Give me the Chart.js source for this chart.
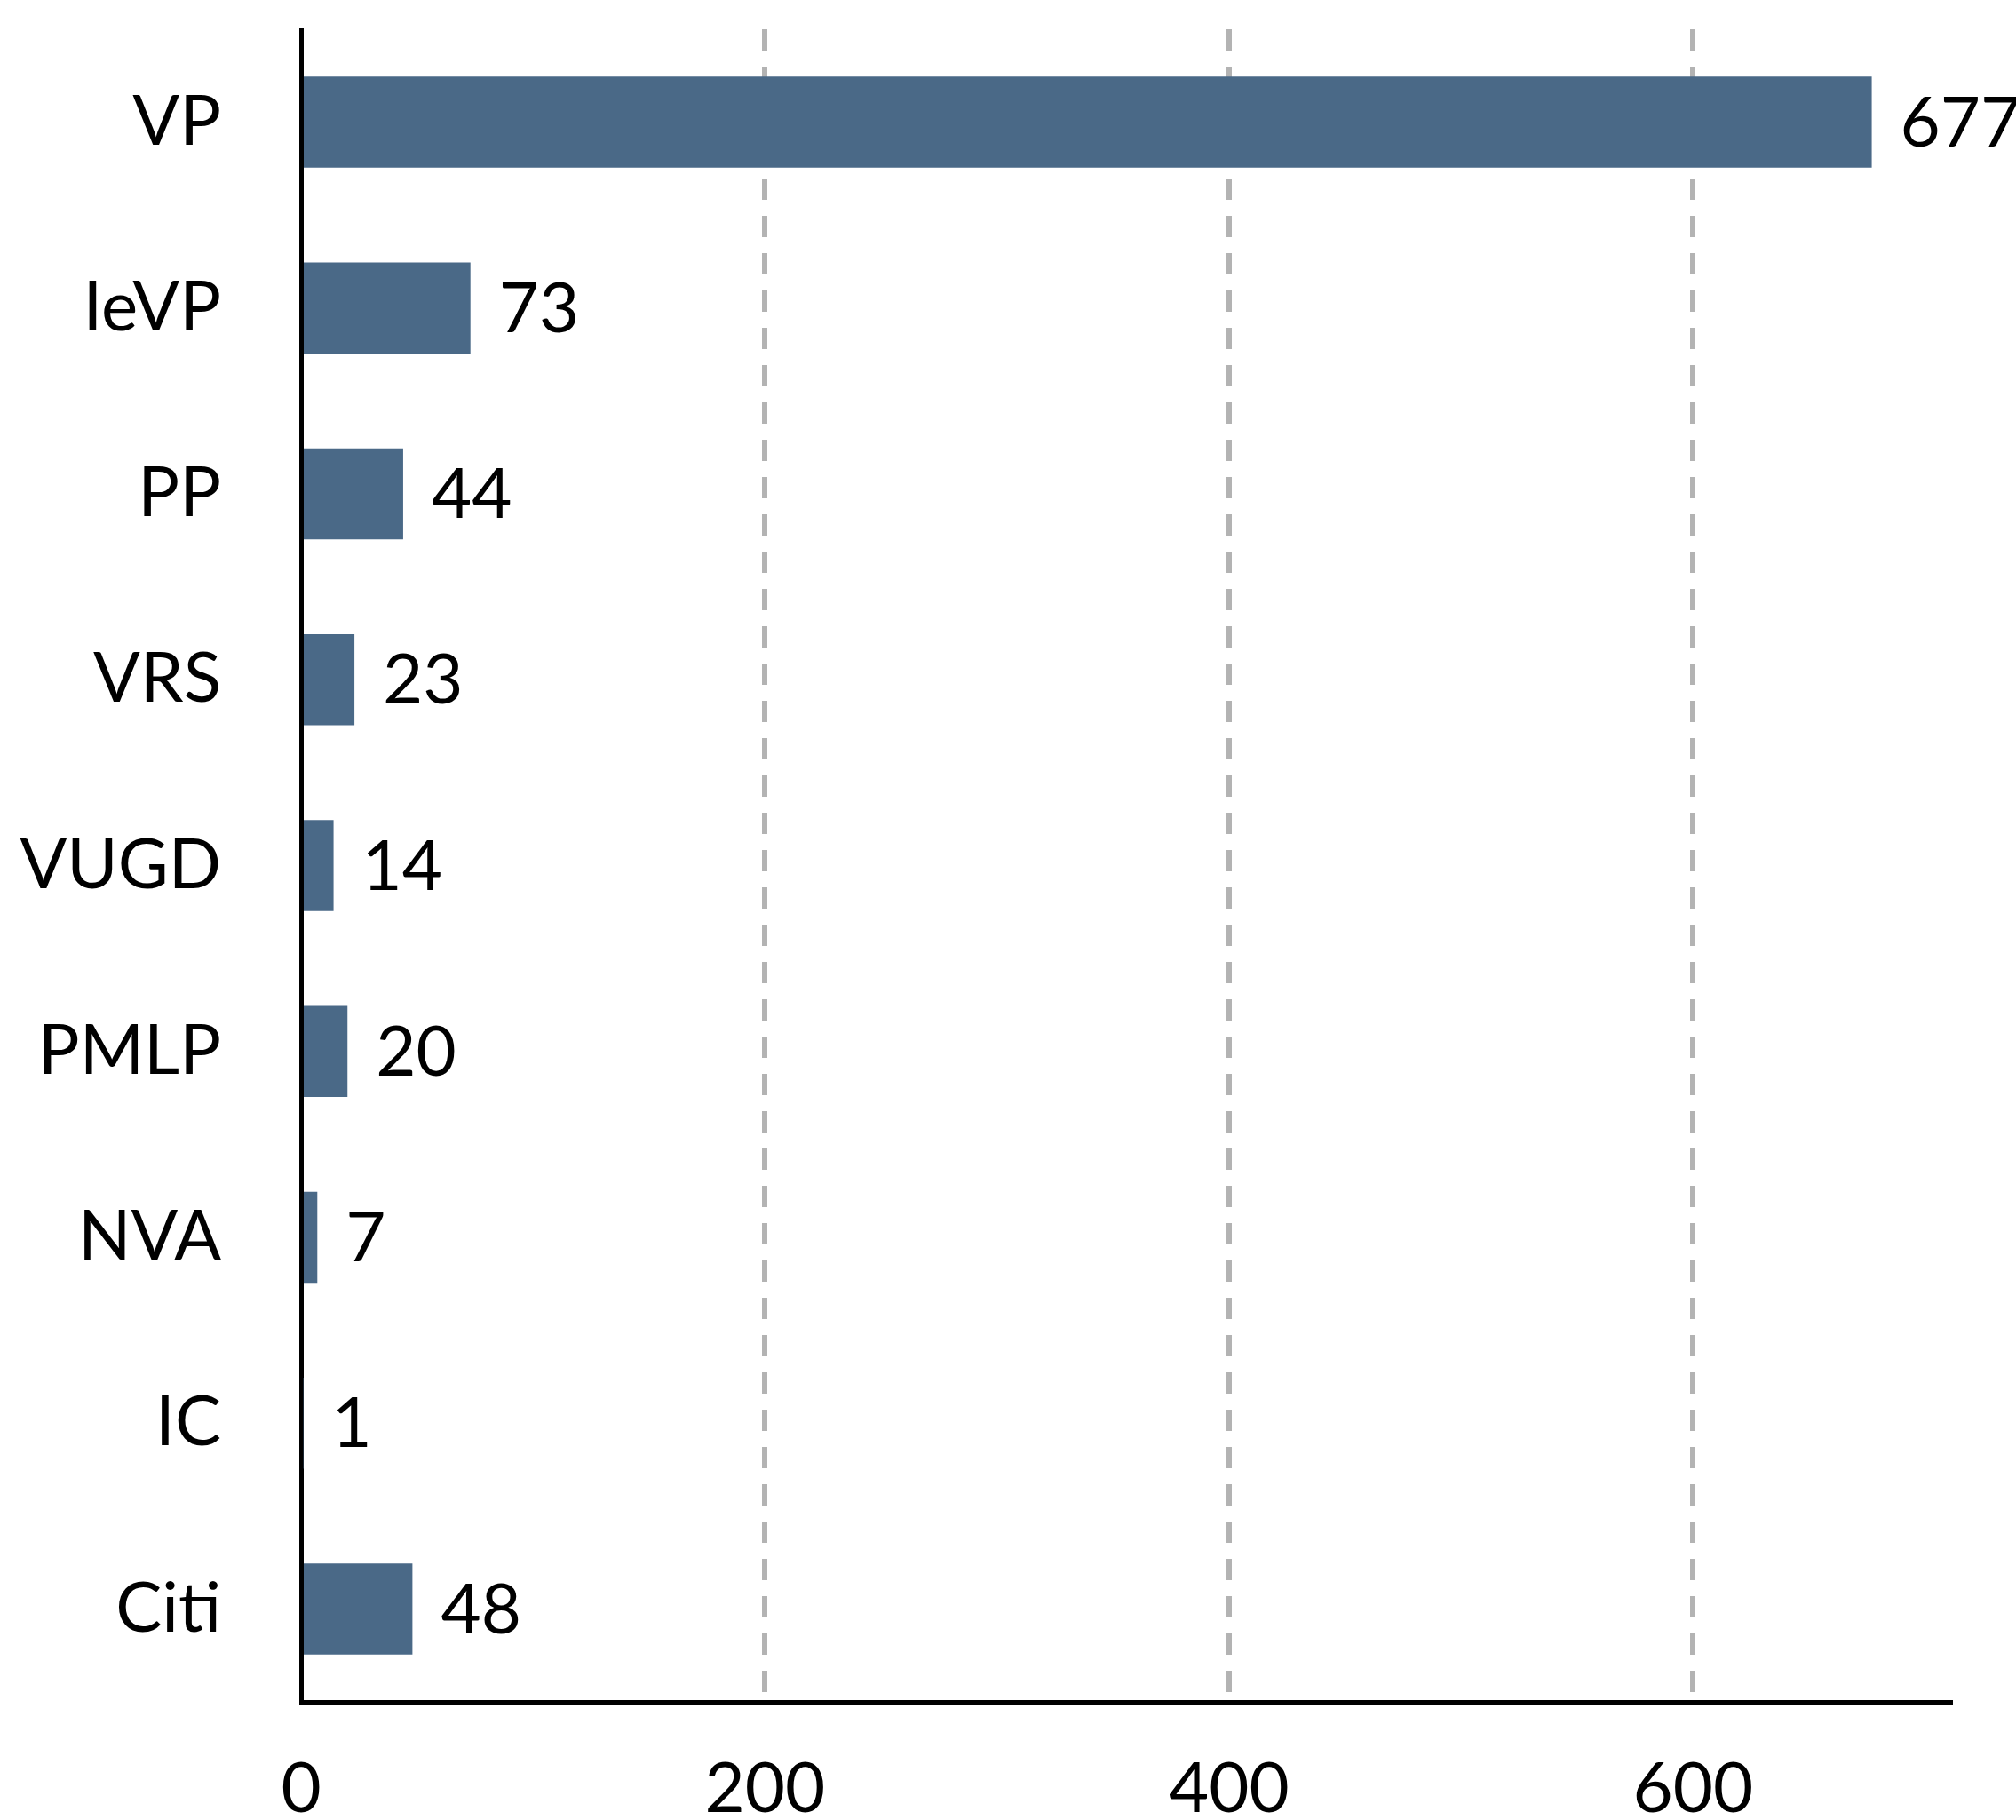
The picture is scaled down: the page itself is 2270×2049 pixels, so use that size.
<!DOCTYPE html>
<html>
<head>
<meta charset="utf-8">
<script src="https://cdn.jsdelivr.net/npm/chart.js@4.4.1/dist/chart.umd.min.js"></script>
<style>
  html, body { margin: 0; padding: 0; background: #fff; }
  canvas { display: block; }
</style>
</head>
<body>
<canvas id="chart" width="2270" height="2049"></canvas>
<script>
// data
var categories = ['VP', 'IeVP', 'PP', 'VRS', 'VUGD', 'PMLP', 'NVA', 'IC', 'Citi'];
var counts = [677, 73, 44, 23, 14, 20, 7, 1, 48];
var xTicks = [0, 200, 400, 600];

var barColor = '#4a6987';
var fontFamily = 'Lato';

// value labels next to each bar
var valueLabels = {
    id: 'valueLabels',
    afterDatasetsDraw: function (chart) {
        var ctx = chart.ctx;
        var meta = chart.getDatasetMeta(0);
        ctx.save();
        ctx.font = '78px ' + fontFamily;
        ctx.fillStyle = '#000';
        ctx.textAlign = 'left';
        ctx.textBaseline = 'middle';
        meta.data.forEach(function (bar, i) {
            ctx.fillText(String(counts[i]), bar.x + 32, bar.y + 2);
        });
        ctx.restore();
    }
};

function draw() {
    var ctx = document.getElementById('chart').getContext('2d');
    new Chart(ctx, {
        type: 'bar',
        data: {
            labels: categories,
            datasets: [{
                data: counts,
                backgroundColor: barColor,
                borderWidth: 0,
                barPercentage: 0.49,
                categoryPercentage: 1.0
            }]
        },
        options: {
            indexAxis: 'y',
            responsive: false,
            animation: false,
            devicePixelRatio: 1,
            layout: { padding: { top: 33, right: 74, left: 0, bottom: 0 } },
            plugins: {
                legend: { display: false },
                tooltip: { enabled: false }
            },
            scales: {
                x: {
                    type: 'linear',
                    min: 0,
                    max: Math.max.apply(null, counts) * 1.05,
                    afterFit: function (scale) {
                        scale.height = 133;
                        scale.paddingLeft = 0;
                        scale.paddingRight = 0;
                    },
                    afterBuildTicks: function (scale) {
                        scale.ticks = xTicks.map(function (v) { return { value: v }; });
                    },
                    ticks: {
                        includeBounds: false,
                        padding: 52,
                        color: '#000',
                        font: { family: fontFamily, size: 78 }
                    },
                    grid: {
                        color: function (c) { return c.tick && c.tick.value === 0 ? 'rgba(0,0,0,0)' : '#b3b3b3'; },
                        lineWidth: 6,
                        drawTicks: false
                    },
                    border: { display: true, color: '#000', width: 5, dash: [24, 18] }
                },
                y: {
                    afterFit: function (scale) {
                        scale.width = 339;
                        scale.paddingTop = 0;
                        scale.paddingBottom = 0;
                    },
                    ticks: {
                        padding: 90,
                        color: '#000',
                        font: { family: fontFamily, size: 78 }
                    },
                    grid: { drawOnChartArea: false, drawTicks: false },
                    border: { display: true, color: '#000', width: 5 }
                }
            }
        },
        plugins: [valueLabels]
    });
}

if (document.fonts && document.fonts.load) {
    document.fonts.load('78px ' + fontFamily).then(draw, draw);
} else {
    draw();
}
</script>
</body>
</html>
